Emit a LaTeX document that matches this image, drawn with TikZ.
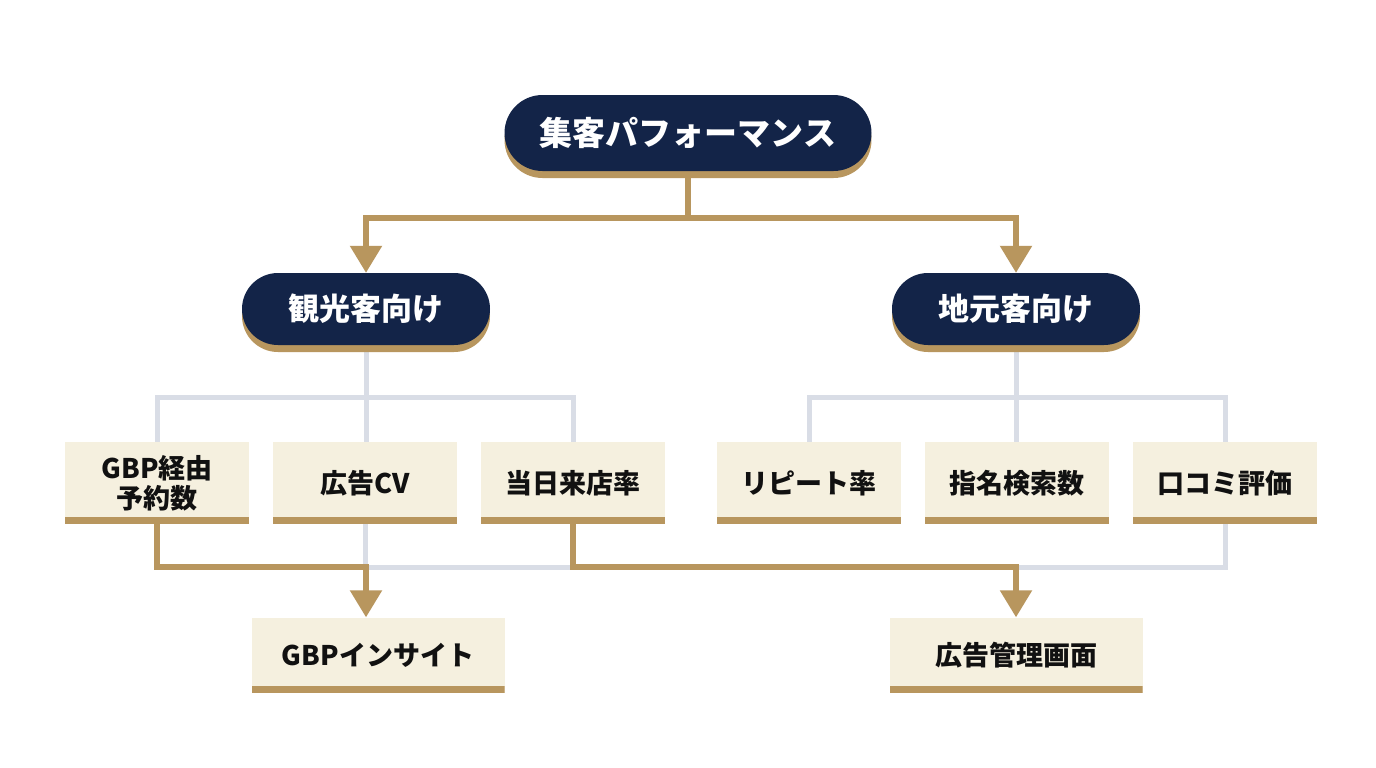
\documentclass[tikz,border=0pt]{standalone}
\usepackage{fontspec}
\setmainfont{Noto Sans CJK JP}
\usepackage{tikz}
\usetikzlibrary{arrows.meta,shadows,backgrounds}
\definecolor{NavyFill} {RGB}{19,36,72}
\definecolor{GoldLine} {RGB}{184,150,94}
\definecolor{CreamFill}{RGB}{245,240,223}
\definecolor{GrayLine} {RGB}{217,221,230}
\definecolor{InkText}  {RGB}{17,17,17}
\tikzset{
  nd_top/.style={
    rectangle, rounded corners=38pt,
    fill=NavyFill, text=white,
    minimum width=367pt, minimum height=76pt, inner sep=0pt,
    font=\bfseries\fontsize{33}{36}\selectfont,
    drop shadow={shadow xshift=0pt,shadow yshift=-7pt,fill=GoldLine,opacity=1}},
  nd_grp/.style={
    rectangle, rounded corners=36pt,
    fill=NavyFill, text=white,
    minimum width=248pt, minimum height=72pt, inner sep=0pt,
    font=\bfseries\fontsize{31}{34}\selectfont,
    drop shadow={shadow xshift=0pt,shadow yshift=-7pt,fill=GoldLine,opacity=1}},
  nd_kpi/.style={
    rectangle, fill=CreamFill, text=InkText,
    minimum width=184pt, minimum height=82pt, inner sep=0pt,
    align=center, font=\bfseries\fontsize{27}{30}\selectfont,
    path picture={\fill[GoldLine] (path picture bounding box.south west)
      rectangle ([yshift=7pt]path picture bounding box.south east);}},
  nd_src/.style={
    nd_kpi, minimum width=253pt, minimum height=75pt},
  gold/.style={draw=GoldLine, line width=5.5pt},
  gray/.style={draw=GrayLine, line width=5pt},
  arr/.style={gold, -{Triangle[length=27pt,width=31pt]}},
}

\begin{document}
\begin{tikzpicture}[x=1pt,y=-1pt]

\useasboundingbox (0,0) rectangle (1376,768);
\begin{scope}[on background layer]
  \fill[white] (0,0) rectangle (1376,768);
\end{scope}

\node[nd_top] at (688,133)  (T){集客パフォーマンス};
\node[nd_grp] at (366,309)  (L){観光客向け};
\node[nd_grp] at (1016,309) (R){地元客向け};

%% metrics
\node[nd_kpi] at (157,483)  (K1){GBP経由\\予約数};
\node[nd_kpi] at (365,483)  (K2){広告CV};
\node[nd_kpi] at (573,483)  (K3){当日来店率};
\node[nd_kpi] at (809,483)  (K4){リピート率};
\node[nd_kpi] at (1017,483) (K5){指名検索数};
\node[nd_kpi] at (1225,483) (K6){口コミ評価};

%% sources
\node[nd_src] at (378,655)  (S1){GBPインサイト};
\node[nd_src] at (1016,655) (S2){広告管理画面};

\coordinate (jT) at (688,218);
\coordinate (jL) at (366,397);
\coordinate (jR) at (1016,397);
\coordinate (jB1) at (366,567);
\coordinate (jB2) at (573,567);
\coordinate (jB3) at (1016,567);

\begin{scope}[on background layer]
  \draw[arr] (T) |- (jT) -| (L);
  \draw[arr] (T) |- (jT) -| (R);

  \draw[gray] (L) -- (jL);
  \draw[gray] (jL) -| (K1);
  \draw[gray] (jL) -| (K3);
  \draw[gray] (jL) -- (jL |- K2.north);
  \draw[gray] (R) -- (jR);
  \draw[gray] (jR) -| (K4);
  \draw[gray] (jR) -| (K6);
  \draw[gray] (jR) -- (jR |- K5.north);

  \draw[gray] (K2) |- (jB2);
  \draw[gray] (K6) |- (jB3);
  \draw[arr] (K1) |- (jB1) -- (jB1 |- S1.north);
  \draw[arr] (K3) |- (jB3) -- (S2);
\end{scope}

\end{tikzpicture}
\end{document}
